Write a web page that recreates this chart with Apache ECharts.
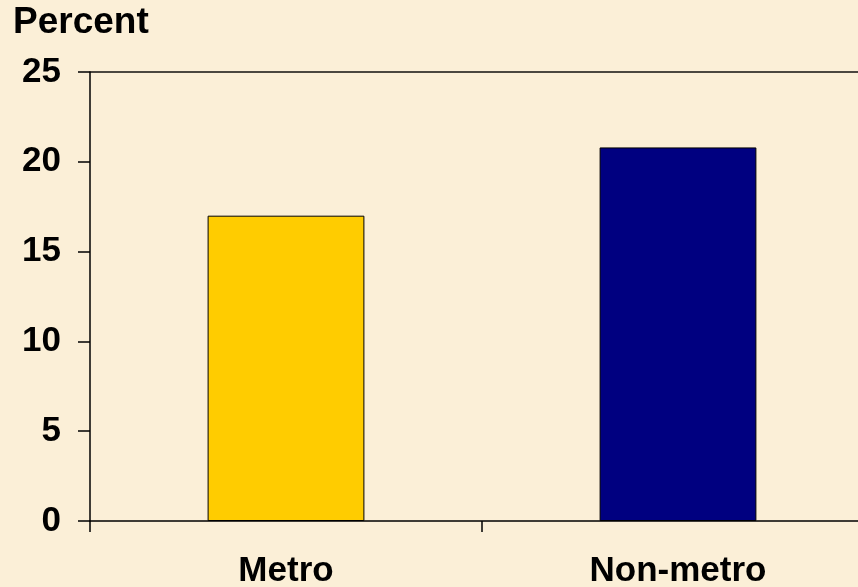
<!DOCTYPE html>
<html>
<head>
<meta charset="utf-8">
<script src="https://cdn.jsdelivr.net/npm/echarts@6/dist/echarts.min.js"></script>
<style>
html,body{margin:0;padding:0;background:#FBEFD7;}
#chart{width:858px;height:587px;}
</style>
</head>
<body>
<div id="chart"></div>
<script>
const categories = ['Metro', 'Non-metro'];
const values = [17.0, 20.8];
const barColors = ['#FFCC00', '#000080'];
const yTicks = [0, 5, 10, 15, 20, 25];
const yTitle = 'Percent';

const chart = echarts.init(document.getElementById('chart'));
const font = '"Liberation Sans", Arial, sans-serif';
chart.setOption({
  backgroundColor: '#FBEFD7',
  animation: false,
  grid: { left: 90, width: 784, top: 72, bottom: 66, containLabel: false, outerBoundsMode: 'none' },
  graphic: [{
    type: 'text', left: 13, top: 4,
    style: { text: yTitle, fontFamily: font, fontWeight: 'bold', fontSize: 37, fill: '#000' }
  }],
  xAxis: {
    type: 'category',
    data: categories,
    boundaryGap: true,
    axisLine: { lineStyle: { color: '#000', width: 1.5 } },
    axisTick: { show: true, length: 11, alignWithLabel: false, lineStyle: { color: '#000', width: 1.5 } },
    axisLabel: { fontFamily: font, fontWeight: 'bold', fontSize: 35, color: '#000', margin: 33 }
  },
  yAxis: {
    type: 'value',
    min: yTicks[0], max: yTicks[yTicks.length - 1], interval: 5,
    axisLine: { show: true, lineStyle: { color: '#000', width: 1.5 } },
    axisTick: { show: true, length: 12, lineStyle: { color: '#000', width: 1.5 } },
    axisLabel: { fontFamily: font, fontWeight: 'bold', fontSize: 35, color: '#000', margin: 29 },
    splitLine: { show: true, lineStyle: { color: ['rgba(0,0,0,0)','rgba(0,0,0,0)','rgba(0,0,0,0)','rgba(0,0,0,0)','rgba(0,0,0,0)','#4b4740'], width: 2 } }
  },
  series: [{
    type: 'bar',
    barWidth: '40%',
    data: values.map((v, i) => ({ value: v, itemStyle: { color: barColors[i] } })),
    itemStyle: { borderColor: '#000', borderWidth: 1 }
  }]
});
</script>
</body>
</html>
